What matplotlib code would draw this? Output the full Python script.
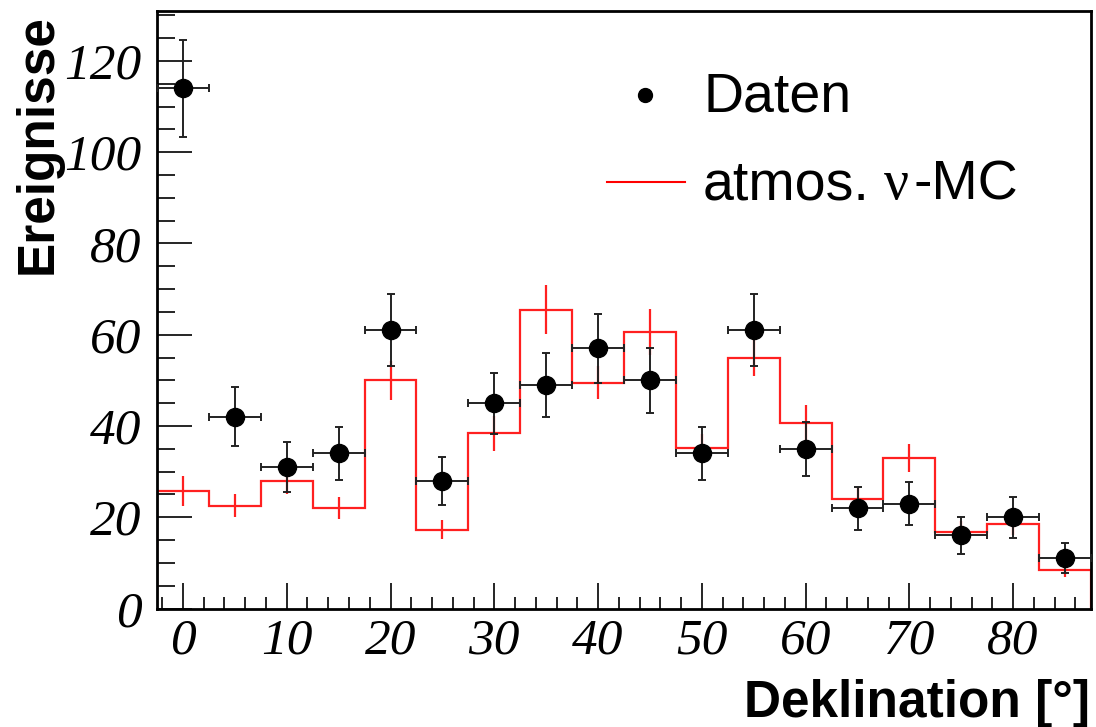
import numpy as np
import matplotlib
matplotlib.use("Agg")
import matplotlib.pyplot as plt
from matplotlib.ticker import MultipleLocator

# declination bins (centres, width 5 deg)
dekl = [0, 5, 10, 15, 20, 25, 30, 35, 40, 45, 50, 55, 60, 65, 70, 75, 80, 85]
daten = [114, 42, 31, 34, 61, 28, 45, 49, 57, 50, 34, 61, 35, 22, 23, 16, 20, 11]
mc = [25.8, 22.5, 28.0, 22.0, 50.0, 17.3, 38.4, 65.5, 49.5, 60.6, 35.2, 55.0,
      40.7, 24.1, 33.0, 16.8, 18.5, 8.4]
mc_err = [3.3, 2.5, 2.9, 2.4, 4.3, 2.0, 3.8, 5.3, 3.6, 5.0, 3.0, 4.0,
          3.9, 2.6, 3.0, 2.4, 2.4, 1.5]
binw = 5.0

W, H = 1096, 727
fig = plt.figure(figsize=(W/100, H/100), dpi=100)
ax = fig.add_axes([157/W, 118.5/H, (1091-157)/W, (608.5-10.7)/H])

x = np.array(dekl, dtype=float)
edges = np.append(x - binw/2, x[-1] + binw/2)

# MC histogram as steps
ax.stairs(mc, edges, color='#ff2020', lw=1.6, zorder=2)
ax.errorbar(x, mc, yerr=mc_err, fmt='none', ecolor='#ff2020', elinewidth=1.6,
            capsize=0, zorder=2)

# data points
d = np.array(daten, dtype=float)
ax.errorbar(x, d, yerr=np.sqrt(d), xerr=binw/2, fmt='o', color='black',
            ms=13, ecolor='#222222', elinewidth=1.4, capsize=3, capthick=1.4,
            zorder=3)

ax.set_xlim(-2.5, 87.5)
ax.set_ylim(0, 131)

for sp in ax.spines.values():
    sp.set_linewidth(2)

ax.xaxis.set_major_locator(MultipleLocator(10))
ax.xaxis.set_minor_locator(MultipleLocator(2))
ax.yaxis.set_major_locator(MultipleLocator(20))
ax.yaxis.set_minor_locator(MultipleLocator(5))
ax.tick_params(axis='x', which='major', direction='in', length=19, width=1.2, pad=7)
ax.tick_params(axis='x', which='minor', direction='in', length=9, width=1.2)
ax.tick_params(axis='y', which='major', direction='in', length=25, width=1.2, pad=11)
ax.tick_params(axis='y', which='minor', direction='in', length=13, width=1.2)

for lab in ax.get_xticklabels() + ax.get_yticklabels():
    lab.set_fontfamily('Liberation Serif')
    lab.set_fontstyle('italic')
    lab.set_fontsize(37)

# legend drawn by hand, ROOT style
fig.lines.append(plt.Line2D([607/W, 685/W], [1-182/H, 1-182/H],
                            color='red', lw=1.5, transform=fig.transFigure))
fig.lines.append(plt.Line2D([645/W], [1-95/H], marker='o', color='black',
                            ms=10, ls='none', transform=fig.transFigure))
fig.text(703/W, 1-111/H, 'Daten', fontsize=40, family='Liberation Sans',
         va='baseline', ha='left')
fig.text(703/W, 1-199/H, 'atmos.', fontsize=40, family='Liberation Sans',
         va='baseline', ha='left')
fig.text(884/W, 1-199/H, 'ν', fontsize=40, family='Liberation Serif',
         va='baseline', ha='left')
fig.text(913/W, 1-199/H, '-MC', fontsize=40, family='Liberation Sans',
         va='baseline', ha='left')

fig.text(38/W, 1-14/H, 'Ereignisse', rotation=90, fontsize=37,
         fontweight='bold', family='Liberation Sans', ha='center', va='top')
fig.text(1090/W, 1-717/H, 'Deklination [°]', fontsize=37,
         fontweight='bold', family='Liberation Sans', ha='right', va='baseline')

fig.savefig('out.png', dpi=100)
